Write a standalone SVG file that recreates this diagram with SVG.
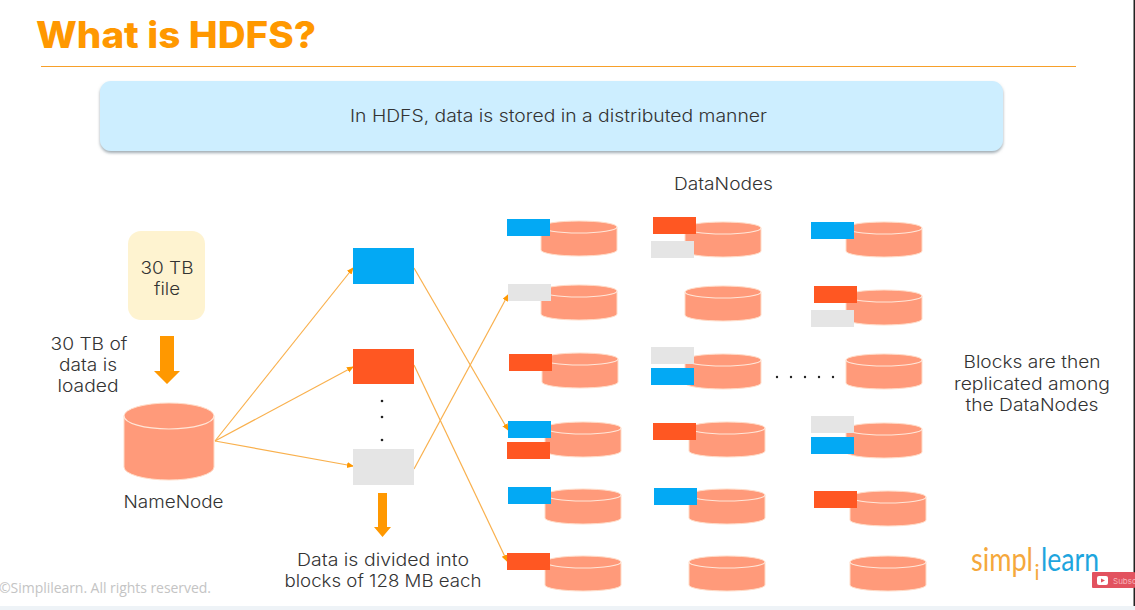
<svg xmlns="http://www.w3.org/2000/svg" width="1135" height="610" viewBox="0 0 1135 610">
<style>
text{font-family:"Inter","Liberation Sans",sans-serif;font-weight:300;fill:#333;font-size:17px;text-anchor:middle}
.title{font-family:"Inter","Liberation Sans",sans-serif;font-weight:800;font-size:37px;fill:#ff9800;text-anchor:start}
.b{fill:#03a9f4}.o{fill:#ff5722}.g{fill:#e5e5e5}
.conn{stroke:#f9b04d;stroke-width:1.2;fill:none;marker-end:url(#ah)}
.dot{fill:#222}
.cyl{fill:#ff9a7a;stroke:#ffdcc8;stroke-width:1}
.rim{fill:none;stroke:#ffe6d8;stroke-width:1.2}
.big{fill:#ff9800}
</style>
<defs>
<marker id="ah" markerWidth="7" markerHeight="7" refX="6" refY="3" orient="auto" markerUnits="userSpaceOnUse"><path d="M0,0L7,3L0,6Z" fill="#ff9800"/></marker>
<filter id="sh" x="-2%" y="-10%" width="104%" height="125%"><feDropShadow dx="0" dy="2" stdDeviation="1.500" flood-color="#6d7f8a" flood-opacity=".65"/></filter>
<symbol id="dn" width="76" height="35" viewBox="0 0 76 35" overflow="visible">
<path class="cyl" d="M0,6A38,6 0 0 1 76,6V29A38,6 0 0 1 0,29Z"/>
<path class="rim" d="M0,6A38,6 0 0 0 76,6"/>
</symbol>
</defs>
<rect width="1135" height="610" fill="#fff"/>
<rect y="606" width="1135" height="4" fill="#eef3f7"/>
<rect x="1133.500" width="1.500" height="606" fill="#222"/>

<text class="title" x="36" y="47.500" textLength="280" lengthAdjust="spacingAndGlyphs">What is HDFS?</text>
<line x1="41" y1="66.500" x2="1076" y2="66.500" stroke="#f7a02a" stroke-width="1.200"/>
<g id="banner">
<rect x="100" y="81" width="903" height="70" rx="11" fill="#cdeeff" filter="url(#sh)"/>
<text x="558.500" y="122" textLength="417" lengthAdjust="spacingAndGlyphs">In HDFS, data is stored in a distributed manner</text>
</g>

<g id="connectors">
<line class="conn" x1="215" y1="441" x2="353" y2="268"/>
<line class="conn" x1="215" y1="441" x2="353" y2="367"/>
<line class="conn" x1="215" y1="441" x2="353" y2="466"/>
<line class="conn" x1="414" y1="268" x2="508" y2="430"/>
<line class="conn" x1="414" y1="365" x2="507" y2="561"/>
<line class="conn" x1="414" y1="469" x2="508" y2="295"/>
</g>

<g id="file">
<rect x="128" y="231" width="77" height="89" rx="13" fill="#fef3d0"/>
<text x="167" y="274" textLength="53" lengthAdjust="spacingAndGlyphs">30 TB</text>
<text x="167" y="295" textLength="26" lengthAdjust="spacingAndGlyphs">file</text>
</g>
<g id="load-arrow"><path class="big" d="M160,336H174V371H180L167,384L154,371H160Z"/></g>
<text x="89" y="350" textLength="77" lengthAdjust="spacingAndGlyphs">30 TB of</text>
<text x="88" y="371" textLength="58" lengthAdjust="spacingAndGlyphs">data is</text>
<text x="88" y="392" textLength="61" lengthAdjust="spacingAndGlyphs">loaded</text>

<g id="namenode">
<path class="cyl" d="M124,416A45,13 0 0 1 214,416V467A45,13 0 0 1 124,467Z"/>
<path class="rim" d="M124,416A45,13 0 0 0 214,416"/>
<text x="173.500" y="508" textLength="100" lengthAdjust="spacingAndGlyphs">NameNode</text>
</g>

<g id="block-blue"><rect class="b" x="353" y="248" width="61" height="36"/></g>
<g id="block-orange"><rect class="o" x="353" y="349" width="61" height="35"/></g>
<g id="block-gray"><rect class="g" x="353" y="449" width="61" height="36"/></g>
<g id="block-dots"><circle class="dot" cx="382" cy="401" r="1.300"/><circle class="dot" cx="382" cy="417" r="1.300"/><circle class="dot" cx="382" cy="440" r="1.300"/></g>
<g id="split-arrow"><path class="big" d="M378,493H387V527H391L382.500,537L374,527H378Z"/></g>
<text x="383" y="566" textLength="172" lengthAdjust="spacingAndGlyphs">Data is divided into</text>
<text x="383" y="587" textLength="197" lengthAdjust="spacingAndGlyphs">blocks of 128 MB each</text>

<text x="723.500" y="190" textLength="99" lengthAdjust="spacingAndGlyphs">DataNodes</text>

<g id="dn-1-1"><use href="#dn" x="541" y="221"/><rect class="b" x="507" y="219" width="43" height="17"/></g>
<g id="dn-1-2"><use href="#dn" x="541" y="285"/><rect class="g" x="508" y="284" width="43" height="17"/></g>
<g id="dn-1-3"><use href="#dn" x="542" y="353"/><rect class="o" x="509" y="354" width="43" height="17"/></g>
<g id="dn-1-4"><use href="#dn" x="545" y="422"/><rect class="b" x="508" y="421" width="43" height="17"/><rect class="o" x="507" y="442" width="43" height="17"/></g>
<g id="dn-1-5"><use href="#dn" x="545" y="489"/><rect class="b" x="508" y="487" width="43" height="17"/></g>
<g id="dn-1-6"><use href="#dn" x="545" y="556"/><rect class="o" x="507" y="553" width="43" height="17"/></g>

<g id="dn-2-1"><use href="#dn" x="685" y="222"/><rect class="o" x="653" y="217" width="43" height="17"/><rect class="g" x="651" y="241" width="43" height="17"/></g>
<g id="dn-2-2"><use href="#dn" x="685" y="286"/></g>
<g id="dn-2-3"><use href="#dn" x="685" y="354"/><rect class="g" x="651" y="347" width="43" height="17"/><rect class="b" x="651" y="368" width="43" height="17"/></g>
<g id="dn-2-4"><use href="#dn" x="689" y="422"/><rect class="o" x="653" y="423" width="43" height="17"/></g>
<g id="dn-2-5"><use href="#dn" x="689" y="489"/><rect class="b" x="654" y="488" width="43" height="17"/></g>
<g id="dn-2-6"><use href="#dn" x="689" y="556"/></g>

<g id="dn-3-1"><use href="#dn" x="846" y="222"/><rect class="b" x="811" y="222" width="43" height="17"/></g>
<g id="dn-3-2"><use href="#dn" x="846" y="290"/><rect class="o" x="814" y="286" width="43" height="17"/><rect class="g" x="811" y="310" width="43" height="17"/></g>
<g id="dn-3-3"><use href="#dn" x="846" y="354"/></g>
<g id="dn-3-4"><use href="#dn" x="846" y="423"/><rect class="g" x="811" y="416" width="43" height="17"/><rect class="b" x="811" y="437" width="43" height="17"/></g>
<g id="dn-3-5"><use href="#dn" x="850" y="491"/><rect class="o" x="814" y="491" width="43" height="17"/></g>
<g id="dn-3-6"><use href="#dn" x="850" y="556"/></g>

<g id="row-dots"><circle class="dot" cx="777" cy="377" r="1.200"/><circle class="dot" cx="791" cy="377" r="1.200"/><circle class="dot" cx="805" cy="377" r="1.200"/><circle class="dot" cx="819" cy="377" r="1.200"/><circle class="dot" cx="833" cy="377" r="1.200"/></g>

<text x="1032" y="368" textLength="137" lengthAdjust="spacingAndGlyphs">Blocks are then</text>
<text x="1032" y="390" textLength="156" lengthAdjust="spacingAndGlyphs">replicated among</text>
<text x="1032" y="411" textLength="133" lengthAdjust="spacingAndGlyphs">the DataNodes</text>

<text x="-1" y="593" style="text-anchor:start;font-family:'Open Sans',sans-serif;font-weight:400;font-size:14px;fill:#c4c4c4" textLength="212">©Simplilearn. All rights reserved.</text>

<g id="logo">
<text x="971" y="571" style="text-anchor:start;font-family:'Lato',sans-serif;font-weight:400;font-size:33px;fill:#f5a83c"><tspan x="971" textLength="62" lengthAdjust="spacingAndGlyphs">simpl</tspan><tspan x="1034.500" dy="9" style="font-size:21px">i</tspan><tspan x="1041" dy="-9" textLength="58" lengthAdjust="spacingAndGlyphs" style="fill:#1ea5de">learn</tspan></text>
</g>
<g id="subscribe">
<rect x="1092" y="572" width="43" height="16" rx="1" fill="#e2525f"/>
<rect x="1097" y="576" width="11" height="9" rx="2" fill="#fff"/>
<path d="M1101,578.500L1105,580.500L1101,582.500Z" fill="#e2525f"/>
<text x="1113" y="584" style="text-anchor:start;font-weight:400;font-size:8px;fill:#f7b5ba">Subsc</text>
</g>
</svg>
